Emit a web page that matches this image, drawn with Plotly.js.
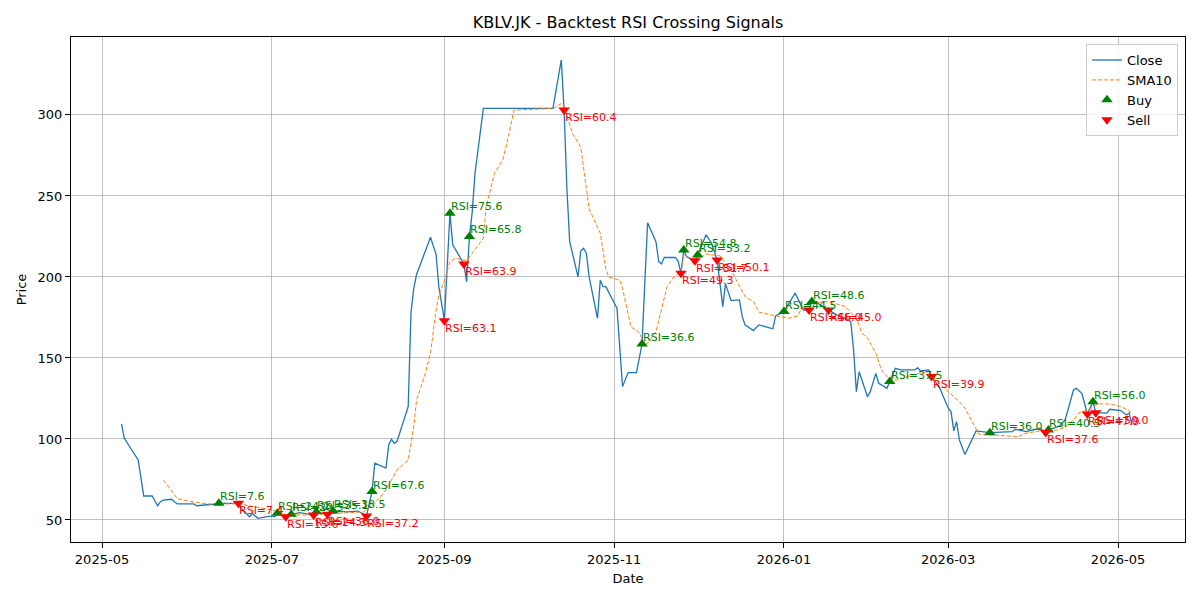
<!DOCTYPE html>
<html>
<head>
<meta charset="utf-8">
<script src="https://cdn.plot.ly/plotly-3.0.1.min.js"></script>
<style>
  body { margin: 0; background: #fff; }
  #chart { width: 1200px; height: 600px; }
</style>
</head>
<body>
<div id="chart"></div>
<script>
// close price
const closeDates = [
  "2025-05-08", "2025-05-09", "2025-05-14", "2025-05-16", "2025-05-19", "2025-05-21", "2025-05-22", "2025-05-23",
  "2025-05-26", "2025-05-28", "2025-06-03", "2025-06-04", "2025-06-10", "2025-06-12", "2025-06-19", "2025-06-20",
  "2025-06-23", "2025-06-24", "2025-06-26", "2025-06-30", "2025-07-01", "2025-07-02", "2025-07-03", "2025-07-06",
  "2025-07-08", "2025-07-11", "2025-07-16", "2025-07-17", "2025-07-21", "2025-07-23", "2025-07-28", "2025-08-01",
  "2025-08-04", "2025-08-06", "2025-08-07", "2025-08-11", "2025-08-12", "2025-08-13", "2025-08-14", "2025-08-15",
  "2025-08-19", "2025-08-20", "2025-08-21", "2025-08-22", "2025-08-25", "2025-08-27", "2025-08-29", "2025-08-30",
  "2025-09-01", "2025-09-03", "2025-09-04", "2025-09-07", "2025-09-08", "2025-09-09", "2025-09-10", "2025-09-11",
  "2025-09-12", "2025-09-15", "2025-10-10", "2025-10-13", "2025-10-14", "2025-10-15", "2025-10-16", "2025-10-19",
  "2025-10-20", "2025-10-21", "2025-10-22", "2025-10-23", "2025-10-26", "2025-10-27", "2025-10-28", "2025-10-29",
  "2025-11-02", "2025-11-04", "2025-11-06", "2025-11-09", "2025-11-11", "2025-11-13", "2025-11-16", "2025-11-17",
  "2025-11-18", "2025-11-19", "2025-11-23", "2025-11-24", "2025-11-25", "2025-11-26", "2025-11-27", "2025-11-30",
  "2025-12-01", "2025-12-04", "2025-12-06", "2025-12-08", "2025-12-10", "2025-12-11", "2025-12-13", "2025-12-16",
  "2025-12-17", "2025-12-18", "2025-12-21", "2025-12-23", "2025-12-28", "2025-12-29", "2026-01-01", "2026-01-05",
  "2026-01-06", "2026-01-08", "2026-01-10", "2026-01-11", "2026-01-13", "2026-01-17", "2026-01-20", "2026-01-24",
  "2026-01-25", "2026-01-26", "2026-01-27", "2026-01-28", "2026-01-31", "2026-02-01", "2026-02-03", "2026-02-04",
  "2026-02-07", "2026-02-08", "2026-02-10", "2026-02-12", "2026-02-17", "2026-02-18", "2026-02-19", "2026-02-22",
  "2026-02-23", "2026-02-26", "2026-03-01", "2026-03-02", "2026-03-03", "2026-03-04", "2026-03-05", "2026-03-07",
  "2026-03-09", "2026-03-11", "2026-03-16", "2026-03-24", "2026-03-25", "2026-03-29", "2026-04-03", "2026-04-05",
  "2026-04-06", "2026-04-10", "2026-04-12", "2026-04-13", "2026-04-15", "2026-04-16", "2026-04-18", "2026-04-20",
  "2026-04-22", "2026-04-23", "2026-04-27", "2026-04-28", "2026-05-02", "2026-05-04", "2026-05-05", "2026-05-06"
];
const closeValues = [
  109.3, 100.4, 87, 64.8, 64.8, 58.8, 61.3, 62.3,
  62.8, 59.9, 59.9, 58.8, 59.7, 60.3, 60.3, 57.2,
  52, 54, 51, 52, 52.5, 52, 54.1, 52,
  53.5, 54.5, 53, 55, 53.5, 55.5, 55, 55.5,
  52.5, 67.5, 85, 82, 96.3, 99.8, 97.3, 98.5,
  120, 178, 193, 201.5, 214.6, 224.5, 214, 194,
  173, 239.3, 219.8, 210.5, 208, 197, 225, 240,
  264, 304, 304, 334, 303, 255, 222, 200,
  216, 217.7, 214.6, 200, 174.5, 198, 194, 194,
  180.7, 132.3, 141, 141, 158.6, 233.5, 221.8, 209.5,
  208, 212, 212, 209.5, 202.3, 216.7, 212.5, 210,
  213.6, 226, 220.8, 210.5, 181.7, 195.7, 185.4, 185.8,
  175.5, 170.4, 166.9, 170.4, 168, 176, 178.6, 190,
  186.8, 179.6, 179.6, 184.8, 183.8, 179.6, 176.5, 173.5,
  172.4, 155, 129.2, 141.5, 126.1, 129.2, 140.5, 134.4,
  131.3, 135.4, 143.6, 142.6, 142.6, 144, 142, 142.6,
  138.5, 131.3, 119, 116.9, 105, 110.7, 99.4, 90.4,
  97.3, 105, 103.9, 104.5, 106, 104.5, 106.6, 104,
  105.5, 108, 111.7, 117.9, 130.2, 131.3, 128.2, 115.4,
  123, 116.2, 116, 118.3, 117.5, 114.8, 116, 108.6
];

// 10-day moving average
const smaDates = [
  "2025-05-23", "2025-05-25", "2025-05-28", "2025-06-03", "2025-06-09", "2025-06-19", "2025-07-01", "2025-07-06",
  "2025-07-13", "2025-07-25", "2025-08-03", "2025-08-07", "2025-08-11", "2025-08-15", "2025-08-19", "2025-08-21",
  "2025-08-22", "2025-08-25", "2025-08-27", "2025-08-29", "2025-08-30", "2025-09-01", "2025-09-03", "2025-09-05",
  "2025-09-09", "2025-09-15", "2025-09-16", "2025-09-19", "2025-09-22", "2025-09-24", "2025-09-26", "2025-10-10",
  "2025-10-13", "2025-10-14", "2025-10-16", "2025-10-17", "2025-10-20", "2025-10-23", "2025-10-27", "2025-10-29",
  "2025-10-30", "2025-11-03", "2025-11-04", "2025-11-07", "2025-11-10", "2025-11-12", "2025-11-13", "2025-11-16",
  "2025-11-20", "2025-11-22", "2025-11-25", "2025-11-26", "2025-11-29", "2025-12-03", "2025-12-04", "2025-12-09",
  "2025-12-13", "2025-12-18", "2025-12-21", "2025-12-23", "2025-12-29", "2026-01-03", "2026-01-06", "2026-01-07",
  "2026-01-11", "2026-01-16", "2026-01-19", "2026-01-23", "2026-01-27", "2026-01-29", "2026-01-31", "2026-02-03",
  "2026-02-05", "2026-02-08", "2026-02-11", "2026-02-16", "2026-02-21", "2026-02-23", "2026-02-27", "2026-03-03",
  "2026-03-05", "2026-03-07", "2026-03-11", "2026-03-12", "2026-03-17", "2026-03-26", "2026-03-29", "2026-04-03",
  "2026-04-09", "2026-04-12", "2026-04-15", "2026-04-17", "2026-04-20", "2026-04-24", "2026-04-28", "2026-05-02",
  "2026-05-05", "2026-05-06"
];
const smaValues = [
  74.5, 70.5, 63.2, 61, 59.8, 60, 56.2, 53.5,
  53, 54, 55, 60.3, 68.5, 80.9, 87, 107.6,
  124, 139.5, 153, 179.6, 188.9, 197.5, 209.5, 211.5,
  210, 223.8, 243.4, 264, 272.2, 286.6, 303, 304,
  307, 305.5, 295, 288.7, 280, 242, 227, 205,
  200, 198, 193, 169.3, 165.6, 158, 159, 166.2,
  194, 199.2, 203.3, 214, 210.5, 213, 214.2, 213,
  204.3, 187.8, 184.8, 178.3, 176, 174.5, 176, 179.6,
  183.8, 184.8, 183.8, 181.7, 174.5, 165.3, 162.2, 152.9,
  142.6, 136.4, 136.4, 139.5, 141.5, 139.5, 132.3, 126.1,
  123, 119, 105.5, 103, 102.5, 101.4, 103.5, 105.1,
  105.5, 107.2, 111.7, 116.2, 117.9, 121.6, 121.6, 120,
  117.5, 114.8
];

// crossing signals with their RSI
const buyDates = [
  "2025-06-12", "2025-07-03", "2025-07-08", "2025-07-17", "2025-07-23", "2025-08-06", "2025-09-03", "2025-09-10",
  "2025-11-11", "2025-11-26", "2025-12-01", "2026-01-01", "2026-01-11", "2026-02-08", "2026-03-16", "2026-04-06",
  "2026-04-22"
];
const buyPrices = [60.3, 54.1, 53.5, 55, 55.5, 67.5, 239.3, 225, 158.6, 216.7, 213.6, 178.6, 184.8, 135.4, 103.9, 105.5, 123];
const buyRsi = [7.6, 24.2, 20.5, 35.1, 38.5, 67.6, 75.6, 65.8, 36.6, 54.8, 53.2, 44.5, 48.6, 37.5, 36.0, 40.5, 56.0];

const sellDates = [
  "2025-06-19", "2025-07-06", "2025-07-16", "2025-07-21", "2025-08-04", "2025-09-01", "2025-09-08", "2025-10-14",
  "2025-11-25", "2025-11-30", "2025-12-08", "2026-01-10", "2026-01-17", "2026-02-23", "2026-04-05", "2026-04-20",
  "2026-04-23"
];
const sellPrices = [60.3, 52, 53, 53.5, 52.5, 173, 208, 303, 202.3, 210, 210.5, 179.6, 179.6, 138.5, 104, 115.4, 116.2];
const sellRsi = [7.4, 15.6, 24.3, 36.0, 37.2, 63.1, 63.9, 60.4, 49.3, 51.7, 50.1, 46.0, 45.0, 39.9, 37.6, 47.9, 50.0];

const FONT = "DejaVu Sans, sans-serif";

const traces = [
  {
    x: closeDates, y: closeValues, type: "scatter", mode: "lines", name: "Close",
    line: { color: "#1f77b4", width: 1.3 }
  },
  {
    x: smaDates, y: smaValues, type: "scatter", mode: "lines", name: "SMA10",
    line: { color: "#ff7f0e", width: 1, dash: "4px,2px" }
  },
  {
    x: buyDates, y: buyPrices, type: "scatter", mode: "markers", name: "Buy",
    marker: { symbol: "triangle-up", color: "green", size: 10 }
  },
  {
    x: sellDates, y: sellPrices, type: "scatter", mode: "markers", name: "Sell",
    marker: { symbol: "triangle-down", color: "red", size: 10 }
  }
];

// RSI labels next to each signal
let annotations = [];
buyDates.forEach((d, i) => {
  annotations.push({
    x: d, y: buyPrices[i], xref: "x", yref: "y", showarrow: false,
    text: "RSI=" + buyRsi[i].toFixed(1), xanchor: "left", yanchor: "bottom",
    borderpad: 0, yshift: -1,
    font: { family: FONT, size: 11, color: "green" }
  });
});
sellDates.forEach((d, i) => {
  annotations.push({
    x: d, y: sellPrices[i], xref: "x", yref: "y", showarrow: false,
    text: "RSI=" + sellRsi[i].toFixed(1), xanchor: "left", yanchor: "top",
    borderpad: 0,
    font: { family: FONT, size: 11, color: "red" }
  });
});

const axisStyle = {
  showgrid: true, gridcolor: "#b0b0b0", gridwidth: 0.8,
  showline: true, linecolor: "black", linewidth: 1, mirror: true,
  ticks: "outside", ticklen: 5, tickcolor: "black",
  tickfont: { family: FONT, size: 13, color: "black" },
  zeroline: false
};

const layout = {
  width: 1200, height: 600,
  margin: { l: 71, r: 15, t: 37, b: 58 },
  paper_bgcolor: "white", plot_bgcolor: "white",
  font: { family: FONT, color: "black" },
  title: {
    text: "KBLV.JK - Backtest RSI Crossing Signals",
    font: { family: FONT, size: 16, color: "black" },
    xref: "paper", x: 0.5, yref: "container", y: 0.962, yanchor: "middle"
  },
  xaxis: Object.assign({}, axisStyle, {
    type: "date",
    range: ["2025-04-19 20:40", "2026-05-25 01:30"],
    tick0: "2025-05-01", dtick: "M2", tickformat: "%Y-%m",
    title: { text: "Date", font: { family: FONT, size: 13 }, standoff: 8 }
  }),
  yaxis: Object.assign({}, axisStyle, {
    range: [36.4, 348.1],
    tick0: 0, dtick: 50,
    title: { text: "Price", font: { family: FONT, size: 13 }, standoff: 8 }
  }),
  showlegend: true,
  legend: {
    x: 0.9937, y: 0.986, xanchor: "right", yanchor: "top",
    bgcolor: "rgba(255,255,255,0.8)", bordercolor: "#cccccc", borderwidth: 1,
    font: { family: FONT, size: 13, color: "black" },
    tracegroupgap: 0
  },
  annotations: annotations
};

Plotly.newPlot("chart", traces, layout, { staticPlot: true });
</script>
</body>
</html>
